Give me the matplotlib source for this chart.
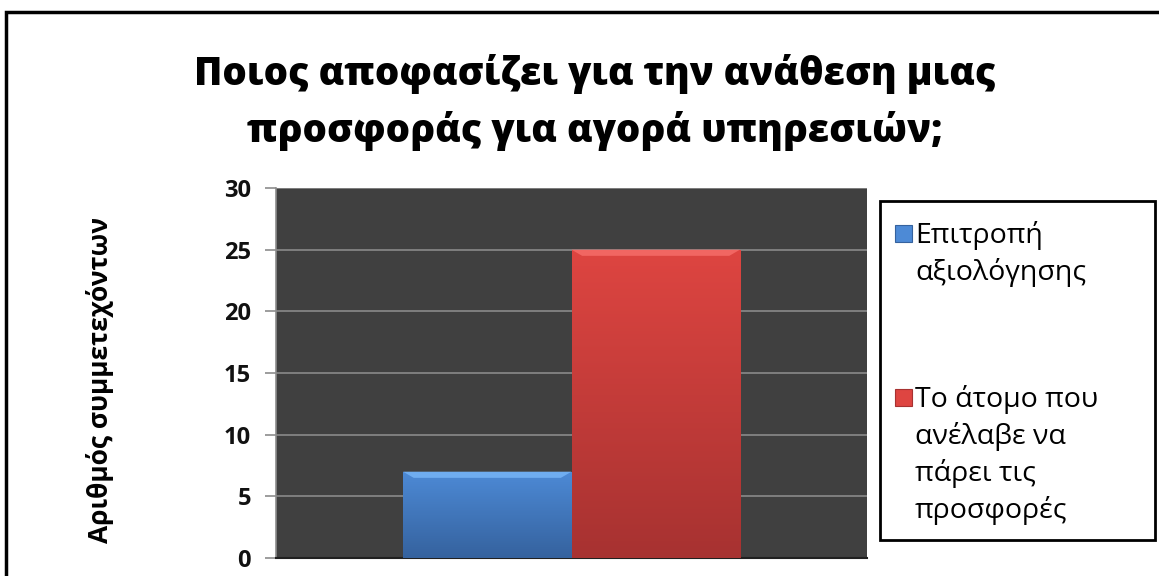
import matplotlib
matplotlib.use("Agg")
import matplotlib.pyplot as plt
import numpy as np
from matplotlib.patches import Rectangle, Polygon
from matplotlib.colors import LinearSegmentedColormap

# ---- data ----
title_lines = ["Ποιος αποφασίζει για την ανάθεση μιας", "προσφοράς για αγορά υπηρεσιών;"]
ylabel = "Αριθμός συμμετεχόντων"
series_names = ["Επιτροπή\nαξιολόγησης", "Το άτομο που\nανέλαβε να\nπάρει τις\nπροσφορές"]
series_values = [7, 25]
yticks = [0, 5, 10, 15, 20, 25, 30]

top_colors = ["#4d8ad6", "#de4541"]
bottom_colors = ["#35629e", "#a73231"]
bevel_colors = ["#74b2f4", "#f46a66"]

FONT = ["Open Sans", "DejaVu Sans"]
plt.rcParams["font.family"] = FONT

W, H = 1159, 576
fig = plt.figure(figsize=(W / 100, H / 100), dpi=100)
fig.patch.set_facecolor("white")


def fx(px):
    return px / W


def fy(py):
    return 1 - py / H


# outer frame (extends beyond right/bottom edges)
fig.add_artist(Rectangle((fx(6), -0.1), 1.2, fy(12) + 0.1, transform=fig.transFigure,
                         fill=False, edgecolor="black", linewidth=2.5))

ax = fig.add_axes([fx(276), fy(558), (867 - 276) / W, (558 - 188) / H])
ax.set_facecolor("#404040")
ax.set_xlim(-0.5, 0.5)
ax.set_ylim(0, 30)
ax.set_yticks(yticks)
ax.yaxis.grid(True, color="#8a8a8a", linewidth=1.2)
ax.set_axisbelow(True)
ax.set_xticks([])
for s in ["top", "right"]:
    ax.spines[s].set_visible(False)
ax.spines["left"].set_color("#8c8c8c")
ax.spines["left"].set_linewidth(1.2)
ax.spines["bottom"].set_color("#202020")
ax.spines["bottom"].set_linewidth(1.5)
ax.tick_params(axis="y", direction="out", length=8, width=1.2, color="#8c8c8c",
               labelsize=17, pad=10)
for lbl in ax.get_yticklabels():
    lbl.set_fontweight("bold")
    lbl.set_color("#111111")

bw = 0.285
offsets = [-bw / 2, bw / 2]
for i, v in enumerate(series_values):
    bars = ax.bar(offsets[i], v, width=bw, color=top_colors[i], edgecolor="none", zorder=3)
    patch = bars[0]
    cmap = LinearSegmentedColormap.from_list("g%d" % i, [bottom_colors[i], top_colors[i]])
    x0 = offsets[i] - bw / 2
    grad = np.linspace(0, 1, 256).reshape(-1, 1)
    im = ax.imshow(grad, extent=[x0, x0 + bw, 0, v], origin="lower", cmap=cmap,
                   aspect="auto", zorder=4)
    im.set_clip_path(patch)
    # top bevel highlight (trapezoid)
    bh = 0.5
    dx = 0.018
    ax.add_patch(Polygon([[x0, v], [x0 + bw, v], [x0 + bw - dx, v - bh], [x0 + dx, v - bh]],
                         closed=True, facecolor=bevel_colors[i], edgecolor="none",
                         zorder=5, alpha=0.9))
ax.set_xlim(-0.5, 0.5)
ax.set_ylim(0, 30)

# title (two lines)
title_baselines = [85, 142]
for line, b in zip(title_lines, title_baselines):
    fig.text(fx(595), fy(b), line, ha="center", va="baseline", fontsize=27.6,
             fontweight="heavy", color="black")

fig.text(fx(100), fy(380), ylabel, rotation=90, ha="center", va="center",
         fontsize=19, fontweight="bold", color="black")

# legend box
lx0, lx1, ly0, ly1 = 880, 1155, 201, 540
fig.add_artist(Rectangle((fx(lx0), fy(ly1)), (lx1 - lx0) / W, (ly1 - ly0) / H,
                         transform=fig.transFigure, facecolor="white",
                         edgecolor="black", linewidth=2))
entry_first_baseline = [243, 407]
line_step = 37
for i, name in enumerate(series_names):
    b0 = entry_first_baseline[i]
    fig.add_artist(Rectangle((fx(895), fy(b0 - 1)), 17 / W, 17 / H,
                             transform=fig.transFigure, facecolor=top_colors[i],
                             edgecolor=bottom_colors[i], linewidth=0.8))
    for k, line in enumerate(name.split("\n")):
        fig.text(fx(915), fy(b0 + k * line_step), line, ha="left", va="baseline",
                 fontsize=20.5, color="black")

fig.savefig("out.png", dpi=100)
